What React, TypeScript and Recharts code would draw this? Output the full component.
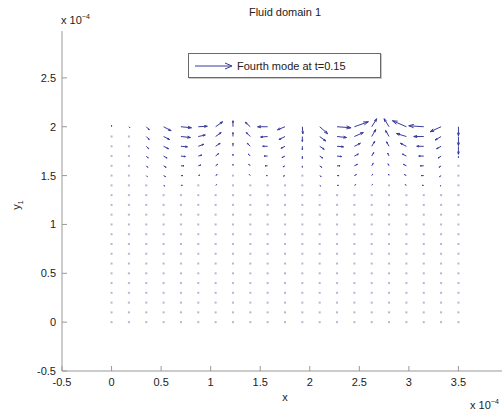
import React from 'react';
import { ScatterChart, Scatter, XAxis, YAxis, Legend } from 'recharts';

// all positions are in units of 1e-4
const xTicks = [-0.5, 0, 0.5, 1, 1.5, 2, 2.5, 3, 3.5];
const yTicks = [-0.5, 0, 0.5, 1, 1.5, 2, 2.5];

const gridX = [0, 0.175, 0.35, 0.525, 0.7, 0.875, 1.05, 1.225, 1.4, 1.575, 1.75, 1.925, 2.1, 2.275, 2.45, 2.625, 2.8, 2.975, 3.15, 3.325, 3.5];
const gridY = [2.0, 1.9, 1.8, 1.7, 1.6, 1.5, 1.4, 1.3, 1.2, 1.1, 1.0, 0.9, 0.8, 0.7, 0.6, 0.5, 0.4, 0.3, 0.2, 0.1, 0];

// velocity components, one row per grid row from the top; lower rows are at rest
const uRows = [
  [0, 1, 3, 7.5, 10.5, 9, 7, 0, -5, -10, -7.5, 0.5, 8, 14, 14, 5, -5, -14, -15, -11, 0],
  [0, 0.5, 3, 6, 9.5, 7, 5.5, 0, -4, -7, -6, 0, 6, 9.5, 9, 4, -3.5, -10, -10, -6, 0],
  [0, 0.5, 2.5, 5, 6.5, 5.5, 4.5, 0, -3, -5, -4, 0, 4.5, 6.5, 6, 3, -2.5, -6, -7, -4.5, 0],
  [0, 0.3, 2, 3.5, 4.5, 3.5, 3, 0, -2, -3.5, -3, 0, 3, 4.5, 4, 2, -1.5, -4, -5, -3, 0],
  [0, 0.2, 1.5, 2.5, 3, 2.5, 2, 0, -1.5, -2.5, -2, 0, 2, 3, 3, 1.5, -1, -3, -3.5, -2, 0],
  [0, 0.1, 1, 2, 2, 1.5, 1.5, 0, -1, -1.5, -1.5, 0, 1.5, 2, 2, 1, -0.5, -2, -2.5, -1.5, 0],
  [0, 0, 0.7, 1.3, 1.4, 1, 1, 0, -0.7, -1, -1, 0, 1, 1.4, 1.3, 0.7, -0.4, -1.3, -1.6, -1, 0],
  [0, 0, 0.4, 0.8, 0.9, 0.6, 0.6, 0, -0.4, -0.6, -0.6, 0, 0.6, 0.9, 0.8, 0.4, -0.2, -0.8, -1, -0.6, 0],
];
const vRows = [
  [1.5, -1, -3, -4, -1, 0.5, 5, 6, 4.5, 0, -3, -7, -7, -1, 5, 8, 8, 6, 1, -5, -9],
  [1, -0.5, -3, -3, -1, 1.5, 4, 4, 4, -0.5, -3, -5, -4.5, -1, 4, 7, 6, 3, 0, -3.5, -9],
  [0.8, -0.5, -2.5, -2.5, -0.5, 2, 3, 3, 3, 0, -2, -3.5, -3, -0.5, 3, 5, 4.5, 3, 0, -2.5, -8],
  [0.5, -0.3, -2, -2, -0.5, 1, 2.5, 2, 2, 0, -1.5, -2.5, -2, -0.5, 2, 3.5, 3, 2, 0, -2, -1.5],
  [0.3, -0.2, -1.5, -1.5, 0, 0.8, 1.5, 1.5, 1.5, 0, -1, -1.5, -1.5, 0, 1.5, 2.5, 2, 1.5, 0, -1.5, -1],
  [0.2, -0.1, -1, -1, 0, 0.5, 1, 1, 1, 0, -0.5, -1, -1, 0, 1, 1.5, 1.5, 1, 0, -1, -0.7],
  [0.1, 0, -0.7, -0.7, 0, 0.3, 0.7, 0.7, 0.7, 0, -0.4, -0.7, -0.7, 0, 0.7, 1, 1, 0.7, 0, -0.7, -0.5],
  [0, 0, -0.4, -0.4, 0, 0.2, 0.4, 0.4, 0.4, 0, -0.2, -0.4, -0.4, 0, 0.4, 0.6, 0.6, 0.4, 0, -0.4, -0.3],
];

const field = gridY.flatMap((y, r) =>
  gridX.map((x, c) => ({ x, y, u: uRows[r]?.[c] ?? 0, v: vRows[r]?.[c] ?? 0 }))
);

const font = '"Liberation Sans", Arial, Helvetica, sans-serif';
const arrowColor = '#3a3a9e';

function Arrow(props: any) {
  const { cx, cy, payload } = props;
  const u = payload.u;
  const v = -payload.v;
  const len = Math.hypot(u, v);
  if (len < 1.2) {
    return <rect x={cx - 1} y={cy - 1} width={2} height={2} fill="#b6b6dc" />;
  }
  const tx = cx + u;
  const ty = cy + v;
  const a = 0.33;
  const b = 0.33;
  const h1x = tx - a * (u + b * v);
  const h1y = ty - a * (v - b * u);
  const h2x = tx - a * (u - b * v);
  const h2y = ty - a * (v + b * u);
  return (
    <g stroke={arrowColor} strokeWidth={1} fill="none">
      <line x1={cx} y1={cy} x2={tx} y2={ty} />
      <polyline points={`${h1x},${h1y} ${tx},${ty} ${h2x},${h2y}`} />
    </g>
  );
}

function LegendBox(props: any) {
  const label = props.payload?.[0]?.value ?? '';
  return (
    <div
      style={{
        width: 191,
        height: 23,
        border: '1px solid #6a6a6a',
        background: '#fff',
        boxShadow: '1px 1px 0 #c8c8c8',
        display: 'flex',
        alignItems: 'center',
        fontFamily: font,
        fontSize: 11,
        color: '#222',
      }}
    >
      <svg width={48} height={23}>
        <line x1={6} y1={12} x2={42} y2={12} stroke={arrowColor} />
        <polyline points="36,9 43,12 36,15" stroke={arrowColor} fill="none" />
      </svg>
      <span>{label}</span>
    </div>
  );
}

export default function App() {
  return (
    <div style={{ position: 'absolute', left: 0, top: 0, width: 502, height: 414, overflow: 'hidden', background: '#fff', fontFamily: font }}>
      <ScatterChart width={540} height={414} margin={{ top: 31, right: 32, bottom: 13, left: 22 }}>
        <XAxis
          type="number"
          dataKey="x"
          domain={[-0.5, 4]}
          ticks={xTicks}
          allowDataOverflow
          height={30}
          tickSize={-5}
          tickMargin={12}
          stroke="#999"
          tick={{ fill: '#222', fontSize: 11, fontFamily: font }}
          label={{ value: 'x', position: 'insideBottom', offset: 0, fill: '#222', fontSize: 11, fontFamily: font }}
        />
        <XAxis
          xAxisId="top"
          orientation="top"
          type="number"
          domain={[-0.5, 4]}
          ticks={xTicks}
          allowDataOverflow
          height={0}
          tickSize={-5}
          tickFormatter={() => ''}
          stroke="#999"
        />
        <YAxis
          type="number"
          dataKey="y"
          domain={[-0.5, 2.98]}
          ticks={yTicks}
          allowDataOverflow
          width={40}
          tickSize={-5}
          tickMargin={11}
          stroke="#999"
          tick={{ fill: '#222', fontSize: 11, fontFamily: font }}
        />
        <Legend
          layout="horizontal"
          verticalAlign="middle"
          align="center"
          content={LegendBox}
          wrapperStyle={{ position: 'absolute', left: 188, top: 53, width: 'auto' }}
        />
        <Scatter name="Fourth mode at t=0.15" data={field} shape={Arrow} isAnimationActive={false} />
      </ScatterChart>

      <div style={{ position: 'absolute', left: 285, top: 6, transform: 'translateX(-50%)', fontSize: 11, color: '#222', whiteSpace: 'nowrap' }}>
        Fluid domain 1
      </div>
      <div style={{ position: 'absolute', left: 61, top: 13, fontSize: 11, color: '#222', whiteSpace: 'nowrap' }}>
        x 10<sup style={{ fontSize: 7, verticalAlign: 5 }}>−4</sup>
      </div>
      <div style={{ position: 'absolute', left: 470, top: 398, fontSize: 11, color: '#222', whiteSpace: 'nowrap' }}>
        x 10<sup style={{ fontSize: 7, verticalAlign: 5 }}>−4</sup>
      </div>
      <div
        style={{ position: 'absolute', left: 17, top: 205, transform: 'translate(-50%, -50%) rotate(-90deg)', fontSize: 11, color: '#222', whiteSpace: 'nowrap' }}
      >
        y<sub style={{ fontSize: 7 }}>1</sub>
      </div>
    </div>
  );
}
